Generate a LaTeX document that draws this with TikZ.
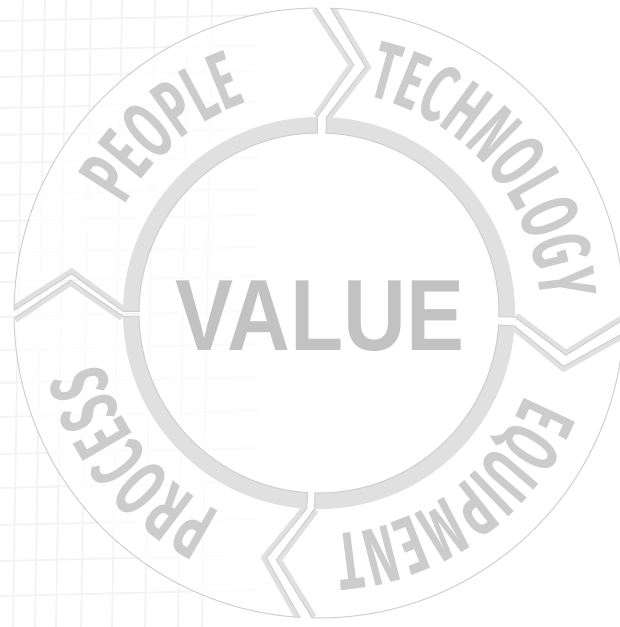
\documentclass[tikz,border=0pt]{standalone}
\usepackage{fontspec}
\usetikzlibrary{decorations.text}
\newfontfamily\arcfont[FakeStretch=0.58]{Fira Sans}
\newfontfamily\valuefont[FakeStretch=0.86]{Liberation Sans}
\definecolor{wordgray}{RGB}{204,204,204}
\definecolor{bandgray}{RGB}{224,224,224}
\definecolor{edgegray}{RGB}{206,206,206}
\definecolor{gridgray}{RGB}{243,243,243}
\newcommand{\wordfont}{\arcfont\bfseries\fontsize{58}{58}\selectfont\color{wordgray}}
% one arrow of the ring, tail angle #1, head angle #2
\newcommand{\segpath}[2]{(#1:305) arc[start angle=#1, end angle=#2, radius=305]
  -- ({#2-8.5}:250.5) -- (#2:196) -- (#2:180) arc[start angle=#2, end angle=#1, radius=180]
  -- (#1:196) -- ({#1-8.5}:250.5) -- cycle}
\tikzset{
  gridline/.style={draw=gridgray, line width=1.2pt},
  segment/.style={fill=white, fill opacity=0.8},
  segedge/.style={draw=edgegray, line width=0.7pt, line join=miter},
  band/.style={draw=bandgray, line width=22.8pt},
  bevel/.style={draw=bandgray, line width=7pt, line join=miter},
  arcword/.style={decorate, decoration={text along path, text align=center}},
}
\begin{document}
\begin{tikzpicture}[scale=0.025]
	\useasboundingbox (-319,-314) rectangle (301,313);
	% faint grid of the paper behind
	\foreach \x in {-306,-284,-263,-238,-207,-174,-141,-117}
		\draw[gridline] (\x,-314) -- (\x+10,313);
	\foreach \y in {292,262,236,205,178,150,118,92,60,31,-4,-37,-70,-104,-141,-175,-212,-248,-283}
		\draw[gridline] (-319,\y) -- (-60,\y+6);
	\fill[white, fill opacity=0.75] (0,0) circle[radius=180];
	% the four arrows
	\foreach \a/\b in {179.5/90.5, 87.8/-1.2, -3.8/-91.3, -93.6/-179}{
		\path[segment] \segpath{\a}{\b};
		\begin{scope}
			\clip \segpath{\a}{\b};
			\draw[band] (\b:180) arc[start angle=\b, end angle=\a, radius=180];
			\draw[bevel] (\b:305) -- ({\b-8.5}:250.5) -- (\b:196);
			\draw[bevel] (\a:305) -- ({\a-8.5}:250.5) -- (\a:196);
		\end{scope}
		\draw[segedge] \segpath{\a}{\b};
	}
	% words along the ring
	\path[arcword, decoration={text={|\wordfont|PEOPLE}}] (190:222) arc[start angle=190, end angle=70, radius=222];
	\path[arcword, decoration={text={|\wordfont|TECHNOLOGY}}] (100.5:222) arc[start angle=100.5, end angle=-19.5, radius=222];
	\path[arcword, decoration={text={|\wordfont|EQUIPMENT}}] (6:222) arc[start angle=6, end angle=-114, radius=222];
	\path[arcword, decoration={text={|\wordfont|PROCESS}}] (-81.5:222) arc[start angle=-81.5, end angle=-201.5, radius=222];
	\node[text=wordgray!95!black] (value) at (1,-3) {\valuefont\bfseries\fontsize{72}{72}\selectfont VALUE};
\end{tikzpicture}
\end{document}
